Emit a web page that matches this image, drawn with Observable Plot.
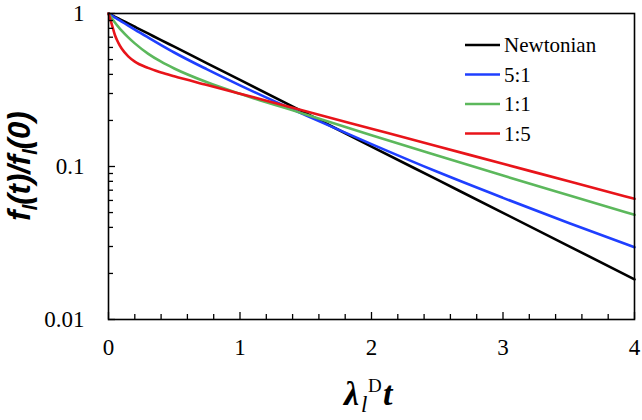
<!DOCTYPE html>
<html><head><meta charset="utf-8">
<script src="https://cdn.jsdelivr.net/npm/d3@7"></script>
<script src="https://cdn.jsdelivr.net/npm/@observablehq/plot@0.6"></script>
<style>
body{margin:0;background:#fff}
#chart{width:642px;height:420px}
#chart svg text.serif, #chart svg .serif text{font-family:"Liberation Serif","Times New Roman",Tinos,serif !important}
#chart svg text.sansi{font-family:"Liberation Sans",Arial,sans-serif !important;font-style:italic;font-weight:bold}
</style>
</head><body><div id="chart"></div>
<script>
// time values (λ_l^D t)
const t = [0, 0.025, 0.05, 0.075, 0.1, 0.15, 0.2, 0.3, 0.4, 0.5, 0.75, 1, 1.5, 2, 2.5, 3, 3.5, 4];
// f_l(t)/f_l(0)
const newtonian = [1, 0.975, 0.951, 0.928, 0.905, 0.861, 0.819, 0.741, 0.670, 0.607, 0.472, 0.368, 0.223, 0.135, 0.082, 0.0498, 0.0302, 0.0183];
const ratio5to1 = [1, 0.970, 0.940, 0.912, 0.885, 0.834, 0.785, 0.698, 0.622, 0.556, 0.431, 0.339, 0.216, 0.140, 0.0923, 0.0624, 0.0427, 0.0297];
const ratio1to1 = [1, 0.931, 0.871, 0.818, 0.773, 0.698, 0.638, 0.547, 0.484, 0.437, 0.355, 0.2985, 0.219, 0.160, 0.118, 0.0873, 0.0649, 0.0483];
const ratio1to5 = [1, 0.850, 0.718, 0.643, 0.590, 0.525, 0.485, 0.441, 0.412, 0.389, 0.341, 0.299, 0.230, 0.1766, 0.1356, 0.1042, 0.0800, 0.0615];

const seriesNames = ["Newtonian", "5:1", "1:1", "1:5"];
const seriesColors = ["#000000", "#1f3fff", "#5cb85c", "#e8141a"];
const seriesValues = [newtonian, ratio5to1, ratio1to1, ratio1to5];

const xTicks = [0, 1, 2, 3, 4];
const xMinorTicks = [0.2, 0.4, 0.6, 0.8, 1.2, 1.4, 1.6, 1.8, 2.2, 2.4, 2.6, 2.8, 3.2, 3.4, 3.6, 3.8];
const yTicks = [0.01, 0.1, 1];
const yMinorTicks = [0.02, 0.03, 0.04, 0.05, 0.06, 0.07, 0.08, 0.09, 0.2, 0.3, 0.4, 0.5, 0.6, 0.7, 0.8, 0.9];

const rows = seriesNames.flatMap((name, i) => t.map((tt, j) => ({t: tt, v: seriesValues[i][j], series: name})));

const serif = "Liberation Serif";

const plot = Plot.plot({
  width: 642, height: 420,
  marginLeft: 108, marginRight: 8, marginTop: 13, marginBottom: 101,
  style: {background: "#fff", color: "#000"},
  x: {domain: [0, 4]},
  y: {type: "log", domain: [0.01, 1]},
  color: {domain: seriesNames, range: seriesColors},
  marks: [
    Plot.line(rows, {x: "t", y: "v", stroke: "series", z: "series", strokeWidth: 2.6, curve: "monotone-x"}),
    Plot.axisX({ticks: xMinorTicks, tickSize: -5, text: null, label: null, strokeWidth: 1.3}),
    Plot.axisX({ticks: xTicks, tickSize: -7, text: null, label: null, strokeWidth: 1.3}),
    Plot.axisX({ticks: xTicks, tickSize: 0, tickPadding: 19, label: null, tickFormat: d => String(d), fontSize: 23, fontFamily: serif, className: "serif"}),
    Plot.axisY({ticks: yMinorTicks, tickSize: -5, text: null, label: null, strokeWidth: 1.3}),
    Plot.axisY({ticks: yTicks, tickSize: -7, text: null, label: null, strokeWidth: 1.3}),
    Plot.axisY({ticks: yTicks, tickSize: 0, tickPadding: 24, label: null, tickFormat: d => String(d), fontSize: 23, fontFamily: serif, className: "serif"}),
    Plot.frame({stroke: "#000", strokeWidth: 1.6})
  ]
});
document.getElementById("chart").appendChild(plot);
d3.select(plot).selectAll("g[aria-label='x-axis tick label'], g[aria-label='y-axis tick label']").selectAll("text").classed("serif", true);

const svg = d3.select(plot);
// y-axis label
const yl = svg.append("text").attr("class", "sansi")
  .attr("transform", "translate(30,166) rotate(-90)")
  .attr("text-anchor", "middle")
  .attr("font-size", 31).attr("fill", "#000");
yl.append("tspan").text("f");
yl.append("tspan").attr("dy", 7).attr("font-size", 20).text("l");
yl.append("tspan").attr("dy", -7).text("(t)/f");
yl.append("tspan").attr("dy", 7).attr("font-size", 20).text("l");
yl.append("tspan").attr("dy", -7).text("(0)");

// x-axis label
const xl = svg.append("g").attr("fill", "#000").attr("text-anchor", "start");
xl.append("text").attr("class", "serif").attr("x", 344).attr("y", 405).attr("font-style", "italic").attr("font-weight", "bold").attr("font-size", 34).text("λ");
xl.append("text").attr("class", "serif").attr("x", 361).attr("y", 412).attr("font-style", "italic").attr("font-size", 23).text("l");
xl.append("text").attr("class", "serif").attr("x", 368).attr("y", 392).attr("font-size", 19).text("D");
xl.append("text").attr("class", "serif").attr("x", 383).attr("y", 405).attr("font-style", "italic").attr("font-weight", "bold").attr("font-size", 34).text("t");

// legend
const leg = svg.append("g").attr("text-anchor", "start");
seriesNames.forEach((name, i) => {
  const yy = 45 + i * 29.5;
  leg.append("line").attr("x1", 465).attr("x2", 500).attr("y1", yy).attr("y2", yy)
    .attr("stroke", seriesColors[i]).attr("stroke-width", 2.6);
  leg.append("text").attr("class", "serif").attr("x", 504).attr("y", yy).attr("dy", "0.35em")
    .attr("font-size", 21).attr("fill", "#000").text(name);
});
</script>
</body></html>
